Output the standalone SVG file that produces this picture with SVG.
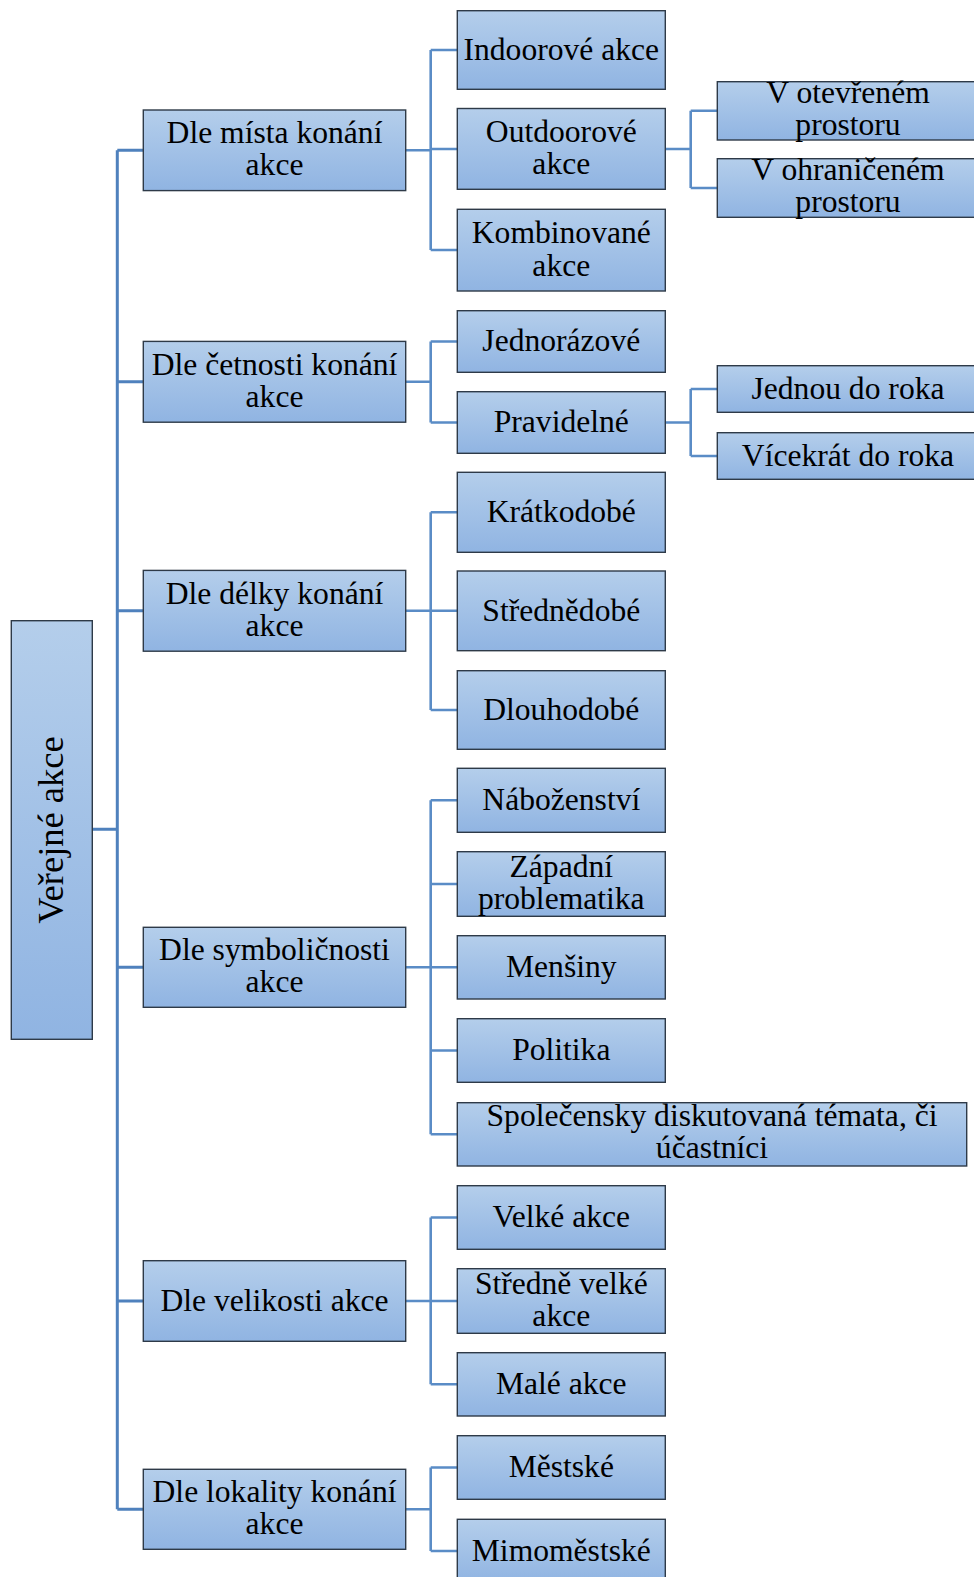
<svg xmlns="http://www.w3.org/2000/svg" width="974" height="1577" viewBox="0 0 974 1577">
<defs>
<linearGradient id="g" x1="0" y1="0" x2="0" y2="1">
<stop offset="0" stop-color="#b4ceeb"/>
<stop offset="1" stop-color="#90b4e2"/>
</linearGradient>
<style>
.b{fill:url(#g);stroke:#2e3a48;stroke-width:1.4}
.t{font-family:"Liberation Serif","Times New Roman",serif;font-size:31.6px;fill:#000;text-anchor:middle}
.r{font-size:36.5px}
.c{fill:none;stroke:#4f81bd;stroke-width:3}
.c2{fill:none;stroke:#5a8cc6;stroke-width:2.6}
</style>
</defs>
<rect width="974" height="1577" fill="#fff"/>
<g id="connectors">
<path class="c" d="M92.3 829.3H117.3M117.3 150.3V1509.3M117.3 150.3H143.3M117.3 381.8H143.3M117.3 610.8H143.3M117.3 967.3H143.3M117.3 1301H143.3M117.3 1509.3H143.3"/>
<path class="c2" d="M405.7 150.3H430.7M430.7 50V250M430.7 50H457.3M430.7 149H457.3M430.7 250H457.3"/>
<path class="c2" d="M665.3 149H690.7M690.7 110.8V188M690.7 110.8H717.3M690.7 188H717.3"/>
<path class="c2" d="M405.7 381.8H430.7M430.7 341.5V422.5M430.7 341.5H457.3M430.7 422.5H457.3"/>
<path class="c2" d="M665.3 422.5H690.7M690.7 389V456M690.7 389H717.3M690.7 456H717.3"/>
<path class="c2" d="M405.7 610.8H430.7M430.7 512.3V710M430.7 512.3H457.3M430.7 610.8H457.3M430.7 710H457.3"/>
<path class="c2" d="M405.7 967.3H430.7M430.7 800.3V1134.3M430.7 800.3H457.3M430.7 884H457.3M430.7 967.3H457.3M430.7 1050.5H457.3M430.7 1134.3H457.3"/>
<path class="c2" d="M405.7 1301H430.7M430.7 1217.5V1384.3M430.7 1217.5H457.3M430.7 1301H457.3M430.7 1384.3H457.3"/>
<path class="c2" d="M405.7 1509.3H430.7M430.7 1467.5V1551M430.7 1467.5H457.3M430.7 1551H457.3"/>
</g>
<g id="root">
<rect class="b" x="11.3" y="620.7" width="81" height="418.6"/>
<text class="t r" transform="translate(62.5 830) rotate(-90)">Veřejné akce</text>
</g>
<g id="n1">
<rect class="b" x="143.3" y="110" width="262.4" height="80.6"/>
<text class="t" x="274.5" y="143.3">Dle místa konání</text>
<text class="t" x="274.5" y="175.3">akce</text>
</g>
<g id="n2">
<rect class="b" x="143.3" y="341.4" width="262.4" height="80.8"/>
<text class="t" x="274.5" y="374.8">Dle četnosti konání</text>
<text class="t" x="274.5" y="406.8">akce</text>
</g>
<g id="n3">
<rect class="b" x="143.3" y="570.4" width="262.4" height="80.8"/>
<text class="t" x="274.5" y="603.8">Dle délky konání</text>
<text class="t" x="274.5" y="635.8">akce</text>
</g>
<g id="n4">
<rect class="b" x="143.3" y="927.3" width="262.4" height="80"/>
<text class="t" x="274.5" y="960.3">Dle symboličnosti</text>
<text class="t" x="274.5" y="992.3">akce</text>
</g>
<g id="n5">
<rect class="b" x="143.3" y="1260.7" width="262.4" height="80.6"/>
<text class="t" x="274.5" y="1310.7">Dle velikosti akce</text>
</g>
<g id="n6">
<rect class="b" x="143.3" y="1469.3" width="262.4" height="80"/>
<text class="t" x="274.5" y="1502.3">Dle lokality konání</text>
<text class="t" x="274.5" y="1534.3">akce</text>
</g>
<g id="n1a">
<rect class="b" x="457.3" y="10.7" width="208" height="78.6"/>
<text class="t" x="561.3" y="59.7">Indoorové akce</text>
</g>
<g id="n1b">
<rect class="b" x="457.3" y="108.5" width="208" height="80.8"/>
<text class="t" x="561.3" y="142">Outdoorové</text>
<text class="t" x="561.3" y="174">akce</text>
</g>
<g id="n1c">
<rect class="b" x="457.3" y="209.3" width="208" height="81.7"/>
<text class="t" x="561.3" y="243">Kombinované</text>
<text class="t" x="561.3" y="275.5">akce</text>
</g>
<g id="n1b1">
<rect class="b" x="717.3" y="81.7" width="261.4" height="58.3"/>
<text class="t" x="848" y="103">V otevřeném</text>
<text class="t" x="848" y="135">prostoru</text>
</g>
<g id="n1b2">
<rect class="b" x="717.3" y="158.7" width="261.4" height="58.6"/>
<text class="t" x="848" y="180.3">V ohraničeném</text>
<text class="t" x="848" y="212.3">prostoru</text>
</g>
<g id="n2a">
<rect class="b" x="457.3" y="310.7" width="208" height="61.6"/>
<text class="t" x="561.3" y="351.2">Jednorázové</text>
</g>
<g id="n2b">
<rect class="b" x="457.3" y="391.7" width="208" height="61.6"/>
<text class="t" x="561.3" y="432.2">Pravidelné</text>
</g>
<g id="n2b1">
<rect class="b" x="717.3" y="365.7" width="261.4" height="46.6"/>
<text class="t" x="848" y="398.7">Jednou do roka</text>
</g>
<g id="n2b2">
<rect class="b" x="717.3" y="432.7" width="261.4" height="46.6"/>
<text class="t" x="848" y="465.7">Vícekrát do roka</text>
</g>
<g id="n3a">
<rect class="b" x="457.3" y="472.3" width="208" height="80"/>
<text class="t" x="561.3" y="522">Krátkodobé</text>
</g>
<g id="n3b">
<rect class="b" x="457.3" y="571" width="208" height="79.7"/>
<text class="t" x="561.3" y="620.5">Střednědobé</text>
</g>
<g id="n3c">
<rect class="b" x="457.3" y="670.7" width="208" height="78.6"/>
<text class="t" x="561.3" y="719.7">Dlouhodobé</text>
</g>
<g id="n4a">
<rect class="b" x="457.3" y="768.3" width="208" height="64"/>
<text class="t" x="561.3" y="810">Náboženství</text>
</g>
<g id="n4b">
<rect class="b" x="457.3" y="851.7" width="208" height="64.6"/>
<text class="t" x="561.3" y="877">Západní</text>
<text class="t" x="561.3" y="908.7">problematika</text>
</g>
<g id="n4c">
<rect class="b" x="457.3" y="935.7" width="208" height="63.3"/>
<text class="t" x="561.3" y="977">Menšiny</text>
</g>
<g id="n4d">
<rect class="b" x="457.3" y="1018.7" width="208" height="63.6"/>
<text class="t" x="561.3" y="1060.2">Politika</text>
</g>
<g id="n4e">
<rect class="b" x="457.3" y="1102.7" width="509.4" height="63.3"/>
<text class="t" x="712" y="1126.3">Společensky diskutovaná témata, či</text>
<text class="t" x="712" y="1157.8">účastníci</text>
</g>
<g id="n5a">
<rect class="b" x="457.3" y="1185.7" width="208" height="63.6"/>
<text class="t" x="561.3" y="1227.2">Velké akce</text>
</g>
<g id="n5b">
<rect class="b" x="457.3" y="1268.7" width="208" height="64.6"/>
<text class="t" x="561.3" y="1294">Středně velké</text>
<text class="t" x="561.3" y="1325.7">akce</text>
</g>
<g id="n5c">
<rect class="b" x="457.3" y="1352.7" width="208" height="63.3"/>
<text class="t" x="561.3" y="1394">Malé akce</text>
</g>
<g id="n6a">
<rect class="b" x="457.3" y="1435.7" width="208" height="63.6"/>
<text class="t" x="561.3" y="1477.2">Městské</text>
</g>
<g id="n6b">
<rect class="b" x="457.3" y="1519.3" width="208" height="63.6"/>
<text class="t" x="561.3" y="1560.7">Mimoměstské</text>
</g>
</svg>
